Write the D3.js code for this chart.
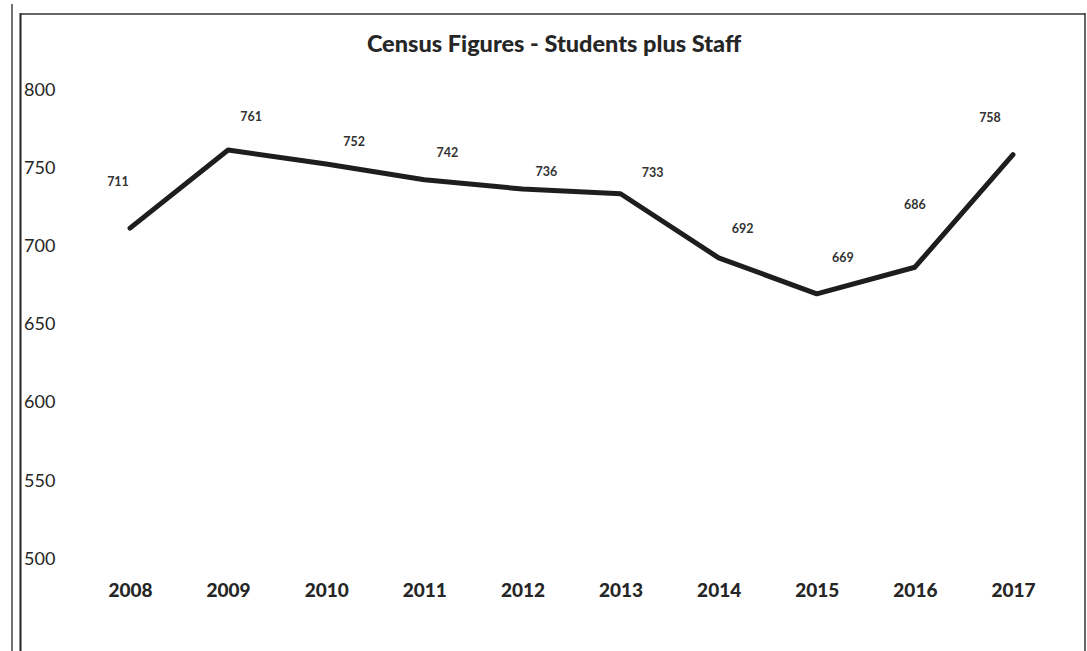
<!DOCTYPE html>
<html><head><meta charset="utf-8">
<script src="https://cdn.jsdelivr.net/npm/d3@7"></script>
<style>body{margin:0;background:#fff}svg{display:block}</style>
</head><body>
<svg id="c" width="1087" height="651"></svg>
<script>
const years = ["2008","2009","2010","2011","2012","2013","2014","2015","2016","2017"];
const census = [711, 761, 752, 742, 736, 733, 692, 669, 686, 758];
const yTicks = [500, 550, 600, 650, 700, 750, 800];
const title = "Census Figures - Students plus Staff";
// label nudges (layout only), dx/dy from each point
const labelDx = [-12, 23, 28, 23, 24, 32, 24, 26, 0, -23];
const labelDy = [-47, -33, -22, -27, -17, -21, -29, -36, -63, -37];

const svg = d3.select("#c");
const ink = "#262626";

// frame lines
svg.append("line").attr("x1",12).attr("x2",12).attr("y1",4).attr("y2",651).attr("stroke","#444").attr("stroke-width",1.5);
svg.append("line").attr("x1",20.5).attr("x2",20.5).attr("y1",13).attr("y2",651).attr("stroke","#222").attr("stroke-width",2);
svg.append("line").attr("x1",20).attr("x2",1085).attr("y1",14).attr("y2",14).attr("stroke","#333").attr("stroke-width",1.5);
svg.append("line").attr("x1",1085).attr("x2",1085).attr("y1",13).attr("y2",651).attr("stroke","#333").attr("stroke-width",1.5);

const x = d3.scalePoint().domain(years).range([130, 1013]);
const y = d3.scaleLinear().domain([500, 800]).range([558, 89]);

// title
svg.append("text").attr("x", 554).attr("y", 52).attr("text-anchor","middle")
  .attr("font-family","Lato, 'Open Sans', sans-serif").attr("font-weight","900")
  .attr("font-size",23.5).attr("fill",ink).text(title);

// y tick labels
const yAxis = svg.append("g").attr("transform","translate(24,0)")
  .call(d3.axisRight(y).tickValues(yTicks).tickSize(0).tickPadding(0));
yAxis.select(".domain").remove();
yAxis.selectAll("text").attr("font-family","Lato, 'Open Sans', sans-serif")
  .attr("font-size",18).attr("fill",ink).attr("dy","0.35em");

// x tick labels
const xAxis = svg.append("g").attr("transform","translate(0,590)")
  .call(d3.axisBottom(x).tickSize(0).tickPadding(0));
xAxis.select(".domain").remove();
xAxis.selectAll("text").attr("font-family","Lato, 'Open Sans', sans-serif")
  .attr("font-weight","900").attr("font-size",19).attr("fill",ink).attr("dy","0.35em");

// line
const line = d3.line().x((d,i)=>x(years[i])).y(d=>y(d));
svg.append("path").datum(census).attr("d", line).attr("fill","none")
  .attr("stroke","#1e1e1e").attr("stroke-width",5).attr("stroke-linejoin","round").attr("stroke-linecap","round");

// data labels
svg.append("g").selectAll("text").data(census).join("text")
  .attr("x",(d,i)=>x(years[i]) + labelDx[i])
  .attr("y",(d,i)=>y(d) + labelDy[i])
  .attr("dy","0.35em").attr("text-anchor","middle")
  .attr("font-family","Lato, 'Open Sans', sans-serif").attr("font-weight","bold").attr("font-size",12.5).attr("fill","#333")
  .text(d=>d);
</script>
</body></html>
